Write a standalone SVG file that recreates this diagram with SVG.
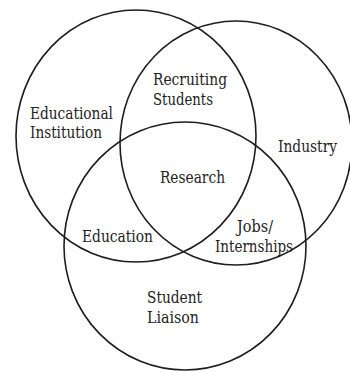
<svg xmlns="http://www.w3.org/2000/svg" width="350" height="372" viewBox="0 0 350 372">
<style>
.ring{fill:none;stroke:#1e1e1e;stroke-width:1.6}
text{font-family:"DejaVu Serif",serif;font-size:16px;fill:#222}
</style>
<rect width="350" height="372" fill="#ffffff"/>
<g id="educational-institution">
<ellipse class="ring" cx="136" cy="136" rx="120" ry="126"/>
<text x="30" y="119" textLength="83" lengthAdjust="spacingAndGlyphs">Educational</text>
<text x="30" y="138" textLength="72" lengthAdjust="spacingAndGlyphs">Institution</text>
</g>
<g id="industry">
<ellipse class="ring" cx="236" cy="143" rx="116" ry="122"/>
<text x="278" y="152" textLength="59" lengthAdjust="spacingAndGlyphs">Industry</text>
</g>
<g id="student-liaison">
<ellipse class="ring" cx="185" cy="246" rx="121" ry="124"/>
<text x="147" y="303" textLength="55" lengthAdjust="spacingAndGlyphs">Student</text>
<text x="147" y="323" textLength="52" lengthAdjust="spacingAndGlyphs">Liaison</text>
</g>
<g id="recruiting-students">
<text x="153" y="85" textLength="74" lengthAdjust="spacingAndGlyphs">Recruiting</text>
<text x="153" y="105" textLength="60" lengthAdjust="spacingAndGlyphs">Students</text>
</g>
<g id="research">
<text x="160" y="183" textLength="65" lengthAdjust="spacingAndGlyphs">Research</text>
</g>
<g id="education">
<text x="82" y="242" textLength="71" lengthAdjust="spacingAndGlyphs">Education</text>
</g>
<g id="jobs-internships">
<text x="237" y="232" textLength="36" lengthAdjust="spacingAndGlyphs">Jobs/</text>
<text x="215" y="252" textLength="78" lengthAdjust="spacingAndGlyphs">Internships</text>
</g>
</svg>
